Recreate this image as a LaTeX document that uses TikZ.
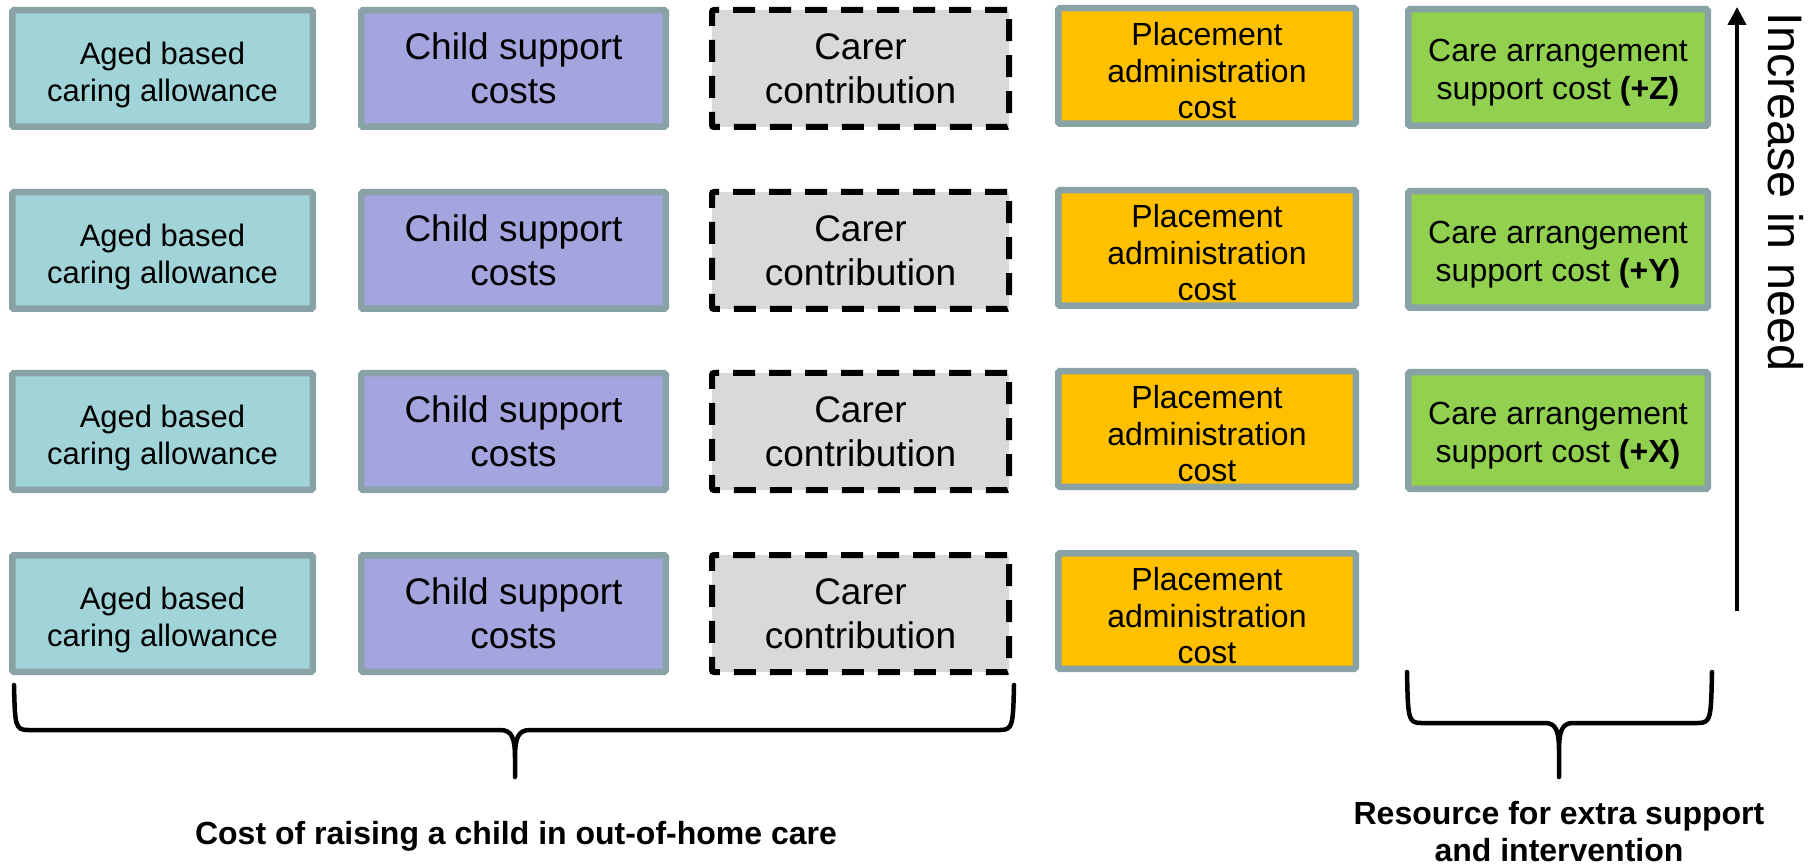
\documentclass[tikz,border=0pt]{standalone}
\usepackage{fontspec}
\setmainfont{Liberation Sans}
\usetikzlibrary{arrows.meta}
\definecolor{tealfill}{RGB}{160,212,216}
\definecolor{purplefill}{RGB}{164,164,223}
\definecolor{greyfill}{RGB}{217,217,217}
\definecolor{orangefill}{RGB}{255,192,0}
\definecolor{greenfill}{RGB}{146,208,80}
\definecolor{bordergray}{RGB}{137,162,165}
\newcommand{\mydrop}[1]{\rule{0pt}{#1}}
\begin{document}
\begin{tikzpicture}[x=1pt,y=-1pt,
  basebox/.style={rectangle, line width=6.5pt, draw=bordergray, rounded corners=1.5pt, inner sep=0pt, align=center},
  agebox/.style={basebox, fill=tealfill, minimum width=300.5pt, minimum height=116.5pt, font=\fontsize{31}{37}\selectfont},
  childbox/.style={basebox, fill=purplefill, minimum width=304.5pt, minimum height=116.5pt, font=\fontsize{37}{44}\selectfont},
  carerbox/.style={rectangle, line width=6pt, draw=black, dash pattern=on 22pt off 14pt, rounded corners=2pt, fill=greyfill, inner sep=0pt, align=center, minimum width=297pt, minimum height=117pt, font=\fontsize{37}{44}\selectfont},
  placebox/.style={basebox, fill=orangefill, minimum width=297.5pt, minimum height=115.5pt, font=\fontsize{32}{36.5}\selectfont},
  carebox/.style={basebox, fill=greenfill, minimum width=299.5pt, minimum height=116.5pt, font=\fontsize{32}{38}\selectfont},
  bracestyle/.style={line width=4.5pt, draw=black, line cap=round, line join=round},
  needarrow/.style={line width=4pt, -{Triangle[width=18pt,length=18pt]}},
  caption/.style={align=center, inner sep=0pt, font=\fontsize{32}{37}\selectfont\bfseries}
]
\useasboundingbox (0,0) rectangle (1818,866);

\foreach \i/\y in {1/68.5,2/250.5,3/431.5,4/613.5}{
  \node[agebox] (age\i) at (162.5,\y) {\mydrop{35pt}Aged based\\caring allowance};
  \node[childbox] (child\i) at (513.5,\y) {Child support\\costs};
  \node[carerbox] (carer\i) at (860.5,\y) {Carer\\contribution};
}
\foreach \i/\y in {1/66,2/248,3/429,4/611}{
  \node[placebox] (place\i) at (1207,\y) {\mydrop{33pt}Placement\\administration\\cost};
}
\node[carebox] (care1) at (1558,67.5) {\mydrop{33pt}Care arrangement\\support cost \textbf{(+Z)}};
\node[carebox] (care2) at (1558,249.5) {\mydrop{33pt}Care arrangement\\support cost \textbf{(+Y)}};
\node[carebox] (care3) at (1558,430.5) {\mydrop{33pt}Care arrangement\\support cost \textbf{(+X)}};

\coordinate (arrowbot) at (1737,611);
\coordinate (arrowtop) at (1737,7);
\draw[needarrow] (arrowbot) -- (arrowtop);
\node[rotate=-90, inner sep=0pt, font=\fontsize{48.5}{56}\selectfont] (need) at (1785.5,192) {Increase in need};

\draw[bracestyle] (14,685) .. controls (15,725) and (15,730) .. (28,730)
  -- (500,730) .. controls (512,730) and (515,738) .. (515,758) -- (515,777)
  -- (515,758) .. controls (515,738) and (518,730) .. (530,730)
  -- (1000,730) .. controls (1013,730) and (1013,725) .. (1014,685);
\draw[bracestyle] (1407,672) .. controls (1408,718) and (1408,723) .. (1421,723)
  -- (1545,723) .. controls (1556,723) and (1559,731) .. (1559,751) -- (1559,777)
  -- (1559,751) .. controls (1559,731) and (1562,723) .. (1573,723)
  -- (1698,723) .. controls (1711,723) and (1711,718) .. (1712,672);

\node[caption] (cap1) at (516,836) {Cost of raising a child in out-of-home care};
\node[caption] (cap2) at (1559,832) {Resource for extra support\\and intervention};
\end{tikzpicture}
\end{document}
